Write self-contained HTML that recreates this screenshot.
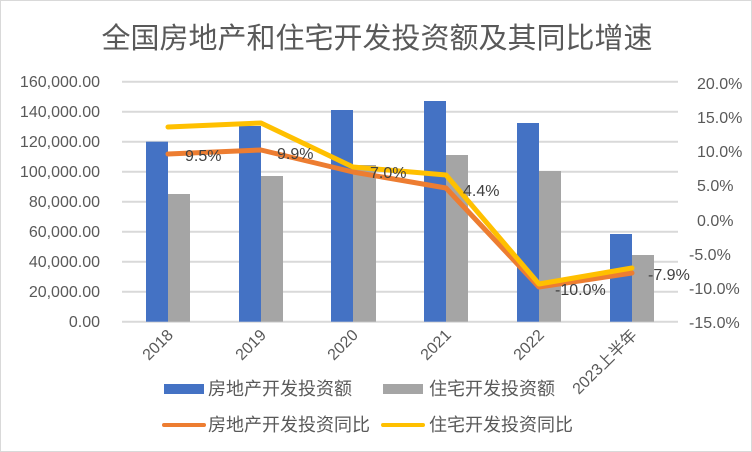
<!DOCTYPE html>
<html><head><meta charset="utf-8"><style>
html,body{margin:0;padding:0;background:#fff}
svg{display:block}
text{font-family:"Liberation Sans","Noto Sans CJK SC",sans-serif;fill:#595959}
</style></head><body>
<svg width="752" height="452" viewBox="0 0 752 452" xmlns="http://www.w3.org/2000/svg">
<rect x="0.5" y="0.5" width="751" height="451" fill="#fff" stroke="#d9d9d9"/>
<text x="377" y="48" text-anchor="middle" font-size="29">全国房地产和住宅开发投资额及其同比增速</text>
<g stroke="#d9d9d9" stroke-width="2">
<line x1="122" x2="678" y1="81.7" y2="81.7"/><line x1="122" x2="678" y1="111.7" y2="111.7"/>
<line x1="122" x2="678" y1="141.7" y2="141.7"/><line x1="122" x2="678" y1="171.7" y2="171.7"/>
<line x1="122" x2="678" y1="201.7" y2="201.7"/><line x1="122" x2="678" y1="231.7" y2="231.7"/>
<line x1="122" x2="678" y1="261.7" y2="261.7"/><line x1="122" x2="678" y1="291.7" y2="291.7"/>
<line x1="122" x2="678" y1="321.7" y2="321.7"/>
</g>
<g font-size="16" text-anchor="end">
<text x="100" y="87">160,000.00</text><text x="100" y="117">140,000.00</text>
<text x="100" y="147">120,000.00</text><text x="100" y="177">100,000.00</text>
<text x="100" y="207">80,000.00</text><text x="100" y="237">60,000.00</text>
<text x="100" y="267">40,000.00</text><text x="100" y="297">20,000.00</text>
<text x="100" y="327">0.00</text>
</g>
<g font-size="16">
<text x="697" y="89">20.0%</text><text x="697" y="123">15.0%</text>
<text x="697" y="157">10.0%</text><text x="697" y="191">5.0%</text>
<text x="697" y="226">0.0%</text><text x="689" y="260">-5.0%</text>
<text x="689" y="294">-10.0%</text><text x="689" y="328">-15.0%</text>
</g>
<g fill="#4472c4">
<rect x="146" y="141.7" width="22" height="180"/><rect x="239" y="126" width="22" height="195.7"/>
<rect x="331" y="110" width="22" height="211.7"/><rect x="424" y="101" width="22" height="220.7"/>
<rect x="517" y="123" width="22" height="198.7"/><rect x="610" y="234" width="22" height="87.7"/>
</g>
<g fill="#a5a5a5">
<rect x="168" y="194" width="22" height="127.7"/><rect x="261" y="176" width="22" height="145.7"/>
<rect x="353" y="165" width="23" height="156.7"/><rect x="446" y="155" width="22" height="166.7"/>
<rect x="539" y="171" width="22" height="150.7"/><rect x="632" y="255" width="22" height="66.7"/>
</g>
<polyline fill="none" stroke="#ed7d31" stroke-width="5" stroke-linejoin="round" stroke-linecap="round" points="168,154 261,150 353,172 446,188 539,287 632,273"/>
<polyline fill="none" stroke="#ffc000" stroke-width="5" stroke-linejoin="round" stroke-linecap="round" points="168,127 261,123 353,167 446,175 539,284 632,268"/>
<g font-size="16" fill="#404040">
<text x="185" y="161" style="fill:#404040">9.5%</text><text x="277" y="159" style="fill:#404040">9.9%</text>
<text x="370" y="178" style="fill:#404040">7.0%</text><text x="463" y="196" style="fill:#404040">4.4%</text>
<text x="555" y="295" style="fill:#404040">-10.0%</text><text x="648" y="280" style="fill:#404040">-7.9%</text>
</g>
<g font-size="16" text-anchor="end">
<text transform="translate(174,336) rotate(-45)">2018</text>
<text transform="translate(267,336) rotate(-45)">2019</text>
<text transform="translate(359,336) rotate(-45)">2020</text>
<text transform="translate(452,336) rotate(-45)">2021</text>
<text transform="translate(545,336) rotate(-45)">2022</text>
<text transform="translate(638,336) rotate(-45)">2023上半年</text>
</g>
<rect x="164" y="384" width="40" height="10" fill="#4472c4"/>
<text x="208" y="395" font-size="18">房地产开发投资额</text>
<rect x="383" y="384" width="40" height="10" fill="#a5a5a5"/>
<text x="429" y="395" font-size="18">住宅开发投资额</text>
<line x1="164" x2="204" y1="425" y2="425" stroke="#ed7d31" stroke-width="4" stroke-linecap="round"/>
<text x="208" y="431" font-size="18">房地产开发投资同比</text>
<line x1="383" x2="423" y1="425" y2="425" stroke="#ffc000" stroke-width="4" stroke-linecap="round"/>
<text x="429" y="431" font-size="18">住宅开发投资同比</text>
</svg>
</body></html>
